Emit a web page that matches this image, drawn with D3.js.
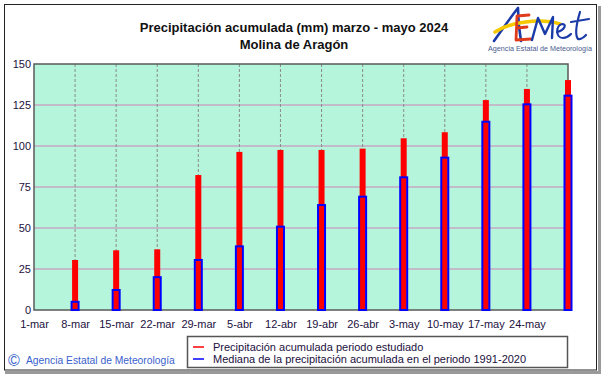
<!DOCTYPE html>
<html><head><meta charset="utf-8">
<script src="https://cdn.jsdelivr.net/npm/d3@7"></script>
<style>body{margin:0;background:#fff}svg{display:block;font-family:"Liberation Sans",Arial,sans-serif}</style>
</head><body>
<script>
const categories = ["1-mar","8-mar","15-mar","22-mar","29-mar","5-abr","12-abr","19-abr","26-abr","3-may","10-may","17-may","24-may","31-may"];
const tickLabels = ["1-mar","8-mar","15-mar","22-mar","29-mar","5-abr","12-abr","19-abr","26-abr","3-may","10-may","17-may","24-may",""];
const precip2024 = [0,30.5,36.4,37,82.3,96.4,97.6,97.6,98.4,104.7,108.4,128,134.8,140.2];
const median = [0,5,12.2,20,30.5,38.8,50.8,64,69.1,80.9,92.9,114.8,125.4,130.7];
const yTicks = [0,25,50,75,100,125,150];
const seriesNames = ["Precipitación acumulada periodo estudiado","Mediana de la precipitación acumulada en el periodo 1991-2020"];

(function(){
const W=601,H=374;
const svg=d3.select("body").append("svg").attr("width",W).attr("height",H);
// outer frame
svg.append("rect").attr("x",5).attr("y",371).attr("width",594).attr("height",3).attr("fill","#9a9a9a");
svg.append("rect").attr("x",598).attr("y",6).attr("width",3).attr("height",368).attr("fill","#9a9a9a");
svg.append("rect").attr("x",4.5).attr("y",4.5).attr("width",592).attr("height",365.5).attr("fill","#fff").attr("stroke","#222").attr("stroke-width",1);

const pl=34,pr=568,pt=64,pb=310;
const x=d3.scalePoint().domain(categories).range([pl,pr]);
const y=d3.scaleLinear().domain([0,150]).range([pb,pt]);

svg.append("rect").attr("x",pl).attr("y",pt).attr("width",pr-pl).attr("height",pb-pt).attr("fill","#b4f5dc");
// horizontal grid
svg.append("g").selectAll("line").data(yTicks.filter(d=>d>0&&d<150)).join("line")
  .attr("x1",pl).attr("x2",pr).attr("y1",d=>y(d)).attr("y2",d=>y(d))
  .attr("stroke","#c7a9c5").attr("stroke-width",1.5);
// vertical grid
svg.append("g").selectAll("line").data(categories.slice(1,-1)).join("line")
  .attr("x1",d=>x(d)).attr("x2",d=>x(d)).attr("y1",pt).attr("y2",pb)
  .attr("stroke","#8a8a8a").attr("stroke-width",1).attr("stroke-dasharray","3,2");
// plot frame
svg.append("rect").attr("x",pl).attr("y",pt).attr("width",pr-pl).attr("height",pb-pt)
  .attr("fill","none").attr("stroke","#5a5a5a").attr("stroke-width",1.5);

// bars
const data=categories.map((c,i)=>({c,p:precip2024[i],m:median[i]}));
svg.append("g").selectAll("rect").data(data.filter(d=>d.p>0)).join("rect")
  .attr("x",d=>x(d.c)-3).attr("width",6).attr("y",d=>y(d.p)).attr("height",d=>y(0)-y(d.p)).attr("fill","#ff0000");
svg.append("g").selectAll("rect").data(data.filter(d=>d.m>0)).join("rect")
  .attr("x",d=>x(d.c)-3.5).attr("width",7).attr("y",d=>y(d.m)).attr("height",d=>y(0)-y(d.m))
  .attr("fill","none").attr("stroke","#0000ff").attr("stroke-width",2);

// axes
const yAxis=d3.axisLeft(y).tickValues(yTicks).tickSize(0).tickPadding(3);
const gy=svg.append("g").attr("transform",`translate(${pl},0)`).call(yAxis);
gy.select(".domain").remove();
gy.selectAll("text").attr("font-size",11).attr("fill","#1c1040").attr("font-family","Liberation Sans, Arial, sans-serif");
const xAxis=d3.axisBottom(x).tickFormat((d,i)=>tickLabels[i]).tickSize(0).tickPadding(10);
const gx=svg.append("g").attr("transform",`translate(0,${pb})`).call(xAxis);
gx.select(".domain").remove();
gx.selectAll("text").attr("font-size",11).attr("fill","#1c1040").attr("font-family","Liberation Sans, Arial, sans-serif");

// titles
svg.append("text").attr("x",294).attr("y",32).attr("text-anchor","middle").attr("font-size",13).attr("font-weight","bold").attr("fill","#111")
  .text("Precipitación acumulada (mm) marzo - mayo 2024");
svg.append("text").attr("x",294).attr("y",49).attr("text-anchor","middle").attr("font-size",13).attr("font-weight","bold").attr("fill","#111")
  .text("Molina de Aragón");

// legend
const lg=svg.append("g");
lg.append("rect").attr("x",187.5).attr("y",336.5).attr("width",380).attr("height",31).attr("fill","#fff").attr("stroke","#555").attr("stroke-width",1.5);
const colors=["#ff0000","#0000ff"];
seriesNames.forEach((n,i)=>{
  lg.append("line").attr("x1",193).attr("x2",204).attr("y1",347+i*12).attr("y2",347+i*12).attr("stroke",colors[i]).attr("stroke-width",1.5);
  lg.append("text").attr("x",213).attr("y",351+i*12).attr("font-size",11).attr("fill","#1c1040").text(n);
});

// copyright
svg.append("text").attr("x",8).attr("y",366).attr("font-size",16).attr("fill","#3a5fcc").text("©");
svg.append("text").attr("x",26).attr("y",364).attr("font-size",10.3).attr("fill","#3a5fcc").text("Agencia Estatal de Meteorología");

// logo (drawn shapes)
const logo=svg.append("g").attr("fill","none").attr("stroke-linecap","round").attr("stroke-linejoin","round");
logo.append("path").attr("d","M494,41 C502,30 510,18 518,8 C518,18 519,30 521,41").attr("stroke","#1a3aa8").attr("stroke-width",2.6);
logo.append("path").attr("d","M495,32 C510,22 540,18 560,24").attr("stroke","#f5c800").attr("stroke-width",3.5);
logo.append("path").attr("d","M529,15 L517,16 L516,40 L531,39 M517,28 L527,27").attr("stroke","#e03a1a").attr("stroke-width",2.8);
logo.append("path").attr("d","M532,40 L538,18 L545,34 L553,17 L552,38").attr("stroke","#1a3aa8").attr("stroke-width",2.4);
logo.append("path").attr("d","M557,32 C565,30 567,24 562,24 C556,25 555,38 563,38 C566,38 569,36 571,34").attr("stroke","#1a3aa8").attr("stroke-width",2.2);
logo.append("path").attr("d","M580,12 C577,22 574,34 578,39 C581,40 584,37 586,35 M571,22 L589,19").attr("stroke","#1a3aa8").attr("stroke-width",2.2);
svg.append("text").attr("x",540).attr("y",51).attr("text-anchor","middle").attr("font-size",7.2).attr("fill","#4a5a90").text("Agencia Estatal de Meteorología");
})();
</script>
</body></html>
